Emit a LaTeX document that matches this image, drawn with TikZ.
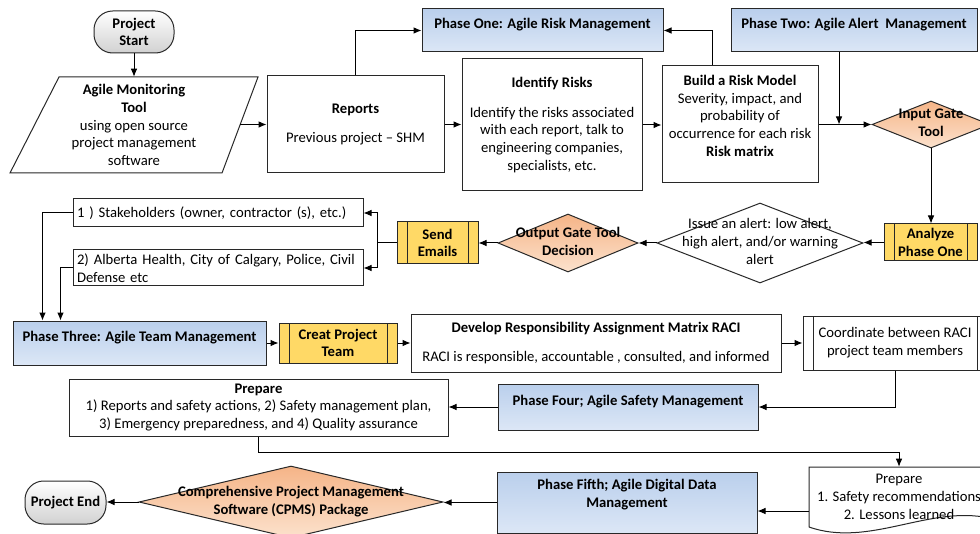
\documentclass[tikz,border=0pt]{standalone}
\usepackage{fontspec}
\setmainfont{Carlito}
\usetikzlibrary{shapes.geometric,arrows.meta,calc}
\definecolor{bl1}{RGB}{186,207,236}
\definecolor{bl2}{RGB}{220,231,246}
\definecolor{yl}{RGB}{255,217,102}
\definecolor{or1}{RGB}{245,180,135}
\definecolor{or2}{RGB}{252,226,205}
\definecolor{bd}{RGB}{40,40,40}
\newcommand\myfont{\fontsize{11}{13.3}\selectfont}
\newcommand\dtext[1]{\smash{\makebox[0pt]{\raisebox{-2.6pt}{\begin{tabular}{@{}c@{}}#1\end{tabular}}}}}
\tikzset{
  base/.style={draw=bd, line width=0.75pt, inner sep=0pt, align=center, font=\myfont},
  sz/.style 2 args={minimum width={(#1)*0.75pt}, minimum height={(#2)*0.75pt}},
  phase/.style={base, rectangle, top color=bl1, bottom color=bl2, font=\myfont\bfseries},
  plainbox/.style={base, rectangle, fill=white},
  procbox/.style={base, rectangle, fill=yl, font=\myfont\bfseries,
    path picture={
      \draw[line width=0.75pt, draw=bd] ([xshift=7.5pt]path picture bounding box.north west) -- ([xshift=7.5pt]path picture bounding box.south west);
      \draw[line width=0.75pt, draw=bd] ([xshift=-7.5pt]path picture bounding box.north east) -- ([xshift=-7.5pt]path picture bounding box.south east);}},
  termbox/.style={base, rectangle, rounded corners=14pt, top color=white, bottom color=black!18, font=\myfont\bfseries},
  dia/.style={base, diamond, font=\myfont\bfseries},
  orfill/.style={top color=or1, bottom color=or2},
  arr/.style={-{Latex[length=6pt,width=5pt]}, line width=0.75pt, draw=black},
  outline/.style={draw=bd, line width=0.75pt, fill=white}
}
\begin{document}
\begin{tikzpicture}[x=0.75pt,y=-0.75pt]
\clip (0,0) rectangle (980,534);
\fill[white] (0,0) rectangle (980,534);

% --- row 1
\node[termbox, sz={80}{42}] (start) at (134,32) {Project\\Start};
\draw[outline] (59,77) -- (258,77) -- (222,173) -- (10,173) -- cycle;
\node[inner sep=0pt, align=center, font=\myfont, sz={248}{96}] (mon) at (134,125)
  {\textbf{Agile Monitoring}\\\textbf{Tool}\\using open source\\project management\\software};
\coordinate (monR) at (240,124.5);
\node[plainbox, sz={177}{97}] (rep) at (355.5,124.5) {\textbf{Reports}\\[8pt]Previous project – SHM};
\node[phase, sz={241}{43}] (p1) at (542.5,30.5) {Phase One: Agile Risk Management\\[-3pt]\mbox{}};
\node[plainbox, sz={180}{132}] (idr) at (552,125)
  {\textbf{Identify Risks}\\[9pt]Identify the risks associated\\with each report, talk to\\engineering companies,\\specialists, etc.};
\node[plainbox, sz={156}{117}] (brm) at (740,124.5)
  {\textbf{Build a Risk Model}\\Severity, impact, and\\probability of\\occurrence for each risk\\\textbf{Risk matrix}\\\mbox{}};
\node[phase, sz={246}{43}] (p2) at (854,30.5) {Phase Two: Agile Alert\ \ Management\\[-3pt]\mbox{}};
\node[dia, orfill, sz={118}{47}] (ing) at (931,124.5) {\dtext{Input Gate\\Tool}};

% --- row 2
\node[procbox, sz={93}{37}] (an) at (930.5,242.5) {Analyze\\Phase One};
\node[dia, fill=white, font=\myfont, sz={206}{80}] (iss) at (760,243)
  {\dtext{Issue an alert: low alert,\\high alert, and/or warning\\alert}};
\node[dia, orfill, sz={140}{58}] (out) at (568,243) {\dtext{Output Gate Tool\\Decision}};
\node[procbox, sz={81}{42}] (se) at (437.5,243) {Send\\Emails};
\node[plainbox, align=left, text width={282*0.75pt}, inner xsep={3*0.75pt}, sz={290}{28}] (sh) at (218,213)
  {1 ) Stakeholders (owner, contractor (s), etc.)};
\node[plainbox, align=left, text width={282*0.75pt}, inner xsep={3*0.75pt}, sz={290}{36}] (ab) at (218,268)
  {2) Alberta Health, City of Calgary, Police, Civil\\Defense etc};

% --- row 3
\node[phase, sz={253}{44}] (p3) at (139.5,343) {Phase Three: Agile Team Management\\[-3pt]\mbox{}};
\node[procbox, sz={118}{40}] (cpt) at (338,343) {Creat Project\\Team};
\node[plainbox, sz={370}{58}] (dev) at (596,343)
  {\textbf{Develop Responsibility Assignment Matrix RACI}\\[8pt]RACI is responsible, accountable , consulted, and informed};
\node[procbox, fill=white, font=\myfont, sz={184}{54}] (coo) at (895,343) {Coordinate between RACI\\project team members};

% --- row 4
\node[phase, sz={260}{46}] (p4) at (628,407) {Phase Four; Agile Safety Management\\[-3pt]\mbox{}};
\node[plainbox, sz={379}{57}] (prep) at (258.5,407.5)
  {\textbf{Prepare}\\1) Reports and safety actions, 2) Safety management plan,\\3) Emergency preparedness, and 4) Quality assurance};

% --- row 5
\draw[outline] (809,527) -- (809,467) -- (989,467) -- (989,518) .. controls (929,505) and (869,548) .. (809,527);
\node[inner sep=0pt, align=center, font=\myfont, sz={180}{60}] (prep2) at (899,497)
  {Prepare\\1. Safety recommendations\\2. Lessons learned};
\node[phase, sz={260}{61}] (p5) at (627,502.5) {Phase Fifth; Agile Digital Data\\Management\\\mbox{}};
\node[dia, orfill, sz={304}{72}] (cpms) at (291,502) {\dtext{Comprehensive Project Management\\Software (CPMS) Package}};
\node[termbox, sz={81}{43}] (pend) at (65.5,502.5) {Project End};

% --- connectors
\draw[arr] (start.south) -- (mon.north);
\draw[arr] (monR) -- (rep.west);
\draw[arr] (rep.north) |- (p1.west);
\draw[arr] (rep.east) -- (rep.east -| idr.west);
\draw[arr] (idr.east) -- (idr.east -| brm.west);
\draw[arr] ($(brm.north)+(-28,0)$) |- (p1.east);
\draw[arr] (brm.east) -- (ing.west);
\draw[arr] ($(p2.south)+(-15,0)$) coordinate (p2s) -- (p2s |- ing.west);
\draw[arr] (ing.south) -- (ing.south |- an.north);
\draw[arr] (an.west) -- (an.west -| iss.east);
\draw[arr] (iss.west) -- (out.east);
\draw[arr] (out.west) -- (se.east);
\draw[arr] (se.west) -- ++(-19,0) |- (sh.east);
\draw[arr] (se.west) -- ++(-19,0) |- (ab.east);
\draw[arr] (sh.west) -| ($(p3.north west)+(30,0)$);
\draw[arr] (ab.west) -| ($(p3.north west)+(48,0)$);
\draw[arr] (p3.east) -- (cpt.west);
\draw[arr] (cpt.east) -- (dev.west);
\draw[arr] (dev.east) -- (coo.west);
\draw[arr] (coo.south) |- (p4.east);
\draw[arr] (p4.west) -- (p4.west -| prep.east);
\draw[arr] (prep.south) -- ++(0,16) -| (prep2.north);
\draw[arr] ($(prep2.west)+(0,14)$) -- ($(p5.east)+(0,8.5)$);
\draw[arr] (p5.west) -- (p5.west -| cpms.east);
\draw[arr] (cpms.west) -- (cpms.west -| pend.east);
\end{tikzpicture}
\end{document}
